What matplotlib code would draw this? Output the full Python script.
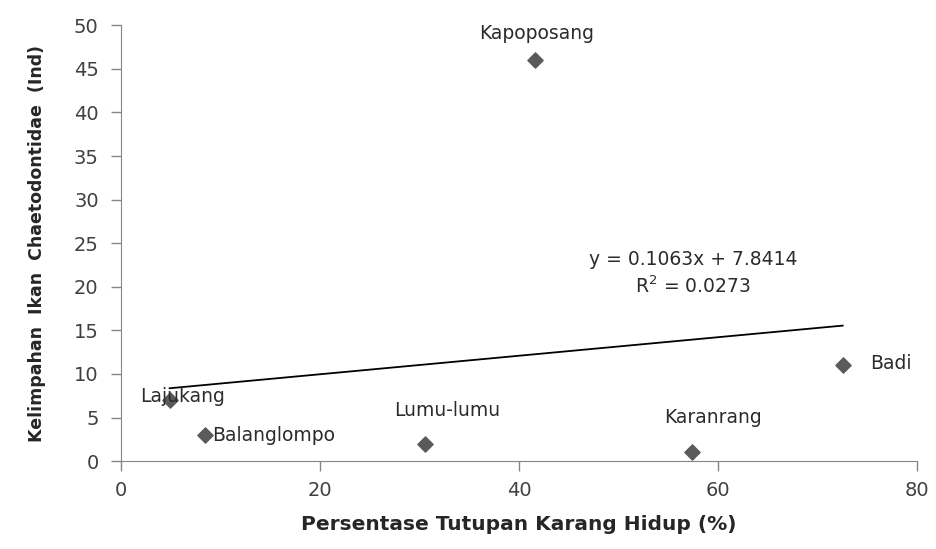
import numpy as np
import matplotlib.pyplot as plt

# coral cover (%) vs butterflyfish abundance per site
sites = ['Lajukang', 'Balanglompo', 'Lumu-lumu', 'Kapoposang', 'Karanrang', 'Badi']
cover = [4.9, 8.5, 30.5, 41.6, 57.4, 72.5]
abundance = [7, 3, 2, 46, 1, 11]

# linear trend from the fitted equation
slope = 0.1063
intercept = 7.8414
r2 = 0.0273

x_ticks = [0, 20, 40, 60, 80]
y_ticks = list(range(0, 51, 5))


def main():
    plt.rcParams['font.family'] = ['DejaVu Sans']
    fig = plt.figure(figsize=(9.37, 5.49), dpi=100)
    ax = fig.add_axes([0.129, 0.160, 0.850, 0.794])

    ax.scatter(cover, abundance, marker='D', s=60, color='#5a5a5a', zorder=3)

    xs = np.array([min(cover), max(cover)])
    ax.plot(xs, slope * xs + intercept, color='black', lw=1.3, zorder=2)

    # site labels: (dx, dy) in points, horizontal alignment
    offsets = {
        'Lajukang': (-21, 2.5, 'left'),
        'Balanglompo': (5, 0, 'left'),
        'Lumu-lumu': (16, 24, 'center'),
        'Kapoposang': (1.5, 19.5, 'center'),
        'Karanrang': (15, 25, 'center'),
        'Badi': (20, 1.5, 'left'),
    }
    for name, x, y in zip(sites, cover, abundance):
        dx, dy, ha = offsets[name]
        ax.annotate(name, (x, y), xytext=(dx, dy), textcoords='offset points',
                    ha=ha, va='center', fontsize=13.5, color='#2b2b2b')

    ax.text(57.5, 18.8, f'y = {slope}x + {intercept}\nR$^2$ = {r2}',
            ha='center', va='bottom', fontsize=13.5, color='#2b2b2b',
            linespacing=1.4)

    ax.set_xlim(0, 80)
    ax.set_ylim(0, 50)
    ax.set_xticks(x_ticks)
    ax.set_yticks(y_ticks)
    ax.tick_params(labelsize=14, colors='#404040', length=7, width=1)
    ax.tick_params(axis='x', pad=7)
    ax.tick_params(axis='y', pad=9)
    for side in ['top', 'right']:
        ax.spines[side].set_visible(False)
    for side in ['left', 'bottom']:
        ax.spines[side].set_color('#868686')
    ax.tick_params(color='#868686')

    ax.set_xlabel('Persentase Tutupan Karang Hidup (%)', fontsize=14.5,
                  fontweight='bold', color='#262626', labelpad=11)
    ax.set_ylabel('Kelimpahan  Ikan  Chaetodontidae  (Ind)', fontsize=12.5,
                  fontweight='bold', color='#262626', labelpad=20)

    fig.savefig('out.png', dpi=100)


if __name__ == '__main__':
    main()
